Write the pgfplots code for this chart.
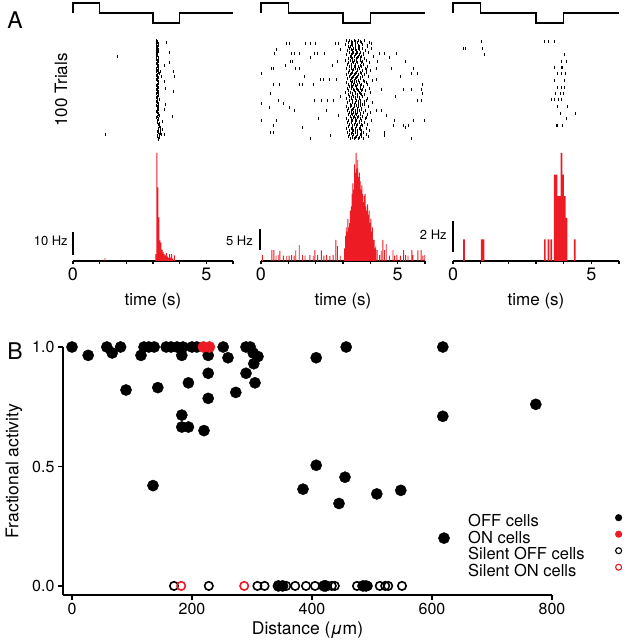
\documentclass[border=0pt]{standalone}
\usepackage{fontspec}
\setmainfont{TeX Gyre Heros}
\usepackage{pgfplots}
\pgfplotsset{compat=1.18}
\definecolor{myred}{RGB}{237,28,36}
\pgfplotsset{
  stim/.style={scale only axis, hide axis, xmin=0, xmax=6, ymin=0, ymax=2, height=20pt, clip=false},
  rast/.style={scale only axis, hide axis, xmin=0, xmax=6, ymin=0.5, ymax=100.5, y dir=reverse, height=100pt, clip=false},
  hist/.style={scale only axis, xmin=0, xmax=6, ymin=0, height=108pt, clip=false,
     axis x line=bottom, axis y line=none, axis line style={-, line width=1.3pt},
     xtick={0,1,2,3,4,5,6}, xticklabels={0,,,,,5,}, tick align=outside, major tick length=3pt,
     tick style={line width=1.1pt, black},
     xticklabel style={font=\fontsize{18}{20}\selectfont},
     /pgf/number format/assume math mode=true,
     xlabel={time (s)}, xlabel style={font=\fontsize{17}{19}\selectfont, at={(axis description cs:0.5,-0.37)}, anchor=center}},
  spk/.style={only marks, mark=|, mark size=1.6pt, mark options={line width=0.8pt}, black},
  hbar/.style={ybar, fill=myred, draw=none},
  legmark/.style={legend image code/.code={\path[draw=none, fill=none] (0pt,0pt) -- (36pt,0pt); \draw[##1, mark size=3pt, mark options={line width=1.1pt}] plot coordinates {(34pt,5.5pt)};}},
}
\begin{document}
\begin{tikzpicture}
\useasboundingbox (0,0) rectangle (627pt,640pt);
\node[font=\fontsize{23}{25}\selectfont] at (15pt,620pt) {A};
\node[font=\fontsize{23}{25}\selectfont] at (15pt,289pt) {B};
\node[rotate=90, font=\fontsize{17}{19}\selectfont] at (61pt,550pt) {100 Trials};

% ---------- column 1 ----------
\begin{axis}[stim, at={(73pt,617pt)}, anchor=south west, width=160pt]
\addplot[line width=1.5pt, black] coordinates {(0,1)(0,2)(1,2)(1,1)(3,1)(3,0)(4,0)(4,1)(6,1)};
\end{axis}
\begin{axis}[rast, at={(73pt,500pt)}, anchor=south west, width=160pt]
\addplot[spk] coordinates {
(3.14,1)(3.17,2)(3.15,3)(3.20,4)(3.13,5)(3.16,7)(3.14,9)(3.21,10)(3.18,11)(3.15,13)(3.17,15)(3.14,17)(3.22,18)(3.19,19)
(3.16,21)(3.15,23)(3.18,25)(3.21,26)(3.16,27)(3.14,29)(3.17,31)(3.19,33)(3.23,34)(3.16,35)(3.18,37)(3.15,39)(3.17,41)
(3.19,43)(3.22,44)(3.16,45)(3.18,47)(3.15,49)(3.17,51)(3.21,52)(3.16,53)(3.19,55)(3.17,57)(3.15,59)(3.24,60)(3.18,61)
(3.16,63)(3.19,65)(3.17,67)(3.15,69)(3.22,70)(3.18,71)(3.16,73)(3.19,75)(3.23,76)(3.17,77)(3.20,79)(3.18,81)(3.16,83)
(3.25,84)(3.21,85)(3.24,87)(3.28,88)(3.19,89)(3.22,90)(3.26,91)(3.20,93)(3.23,95)(3.18,97)(3.21,99)(3.19,100)
(3.12,2)(3.18,3)(3.11,6)(3.19,6)(3.12,8)(3.17,8)(3.13,12)(3.19,12)(3.12,14)(3.18,16)(3.13,20)(3.19,22)(3.12,24)
(3.20,28)(3.13,30)(3.21,30)(3.14,32)(3.13,36)(3.20,38)(3.14,40)(3.21,42)(3.13,46)(3.20,48)(3.14,50)(3.13,54)
(3.21,56)(3.14,58)(3.13,62)(3.21,64)(3.14,66)(3.20,68)(3.13,72)(3.21,74)(3.14,78)(3.22,80)(3.15,82)(3.23,86)
(3.17,92)(3.26,94)(3.16,96)(3.24,98)(3.22,100)
(3.52,3)(3.63,13)(1.65,17)(3.60,23)(3.41,26)(3.75,32)(3.82,37)(3.26,32)(3.30,37)(3.41,42)(3.48,49)(3.75,52)(3.48,65)
(3.44,70)(3.73,77)(3.37,82)(3.37,90)(3.30,95)(3.44,95)(1.20,95)(3.29,93)};
\end{axis}
\begin{axis}[hist, at={(73pt,379pt)}, anchor=south west, width=160pt, ymax=47]
\addplot[hbar, bar width=0.036] coordinates {
(1.20,1.3)(3.11,3)(3.146,47)(3.18,32)(3.22,19)(3.26,9)(3.30,8)(3.34,5)(3.38,4)(3.42,3)(3.46,2.5)(3.50,3.5)
(3.54,2)(3.58,1.5)(3.62,3)(3.66,1.5)(3.70,3)(3.74,1)(3.80,2.5)};
\draw[line width=1.3pt] (axis cs:0,2.6) -- (axis cs:0,12.6);
\node[anchor=east, inner sep=0pt, font=\fontsize{13}{15}\selectfont] at (axis cs:-0.19,8.7) {10 Hz};
\end{axis}

% ---------- column 2 ----------
\begin{axis}[stim, at={(261pt,617pt)}, anchor=south west, width=164pt]
\addplot[line width=1.5pt, black] coordinates {(0,1)(0,2)(1,2)(1,1)(3,1)(3,0)(4,0)(4,1)(6,1)};
\end{axis}
\begin{axis}[rast, at={(261pt,500pt)}, anchor=south west, width=164pt]
\addplot[spk] coordinates {
(3.13,1)(3.25,1)(3.42,1)(3.58,1)(3.80,1)
(3.20,3)(3.36,3)(3.51,3)(3.67,3)(3.95,3)
(3.10,5)(3.31,5)(3.46,5)(3.72,5)
(3.18,7)(3.28,7)(3.44,7)(3.61,7)(3.88,7)
(3.24,9)(3.39,9)(3.55,9)(3.70,9)(4.05,9)
(3.15,11)(3.33,11)(3.48,11)(3.83,11)
(3.22,13)(3.37,13)(3.53,13)(3.64,13)(3.92,13)
(3.12,15)(3.29,15)(3.45,15)(3.59,15)(3.76,15)
(3.26,17)(3.41,17)(3.57,17)(3.69,17)(4.10,17)
(3.19,19)(3.35,19)(3.50,19)(3.78,19)
(3.09,21)(3.27,21)(3.43,21)(3.62,21)(3.85,21)
(3.21,23)(3.38,23)(3.52,23)(3.66,23)(3.98,23)
(3.16,25)(3.32,25)(3.47,25)(3.74,25)
(3.23,27)(3.40,27)(3.56,27)(3.68,27)(3.90,27)
(3.14,29)(3.30,29)(3.44,29)(3.60,29)(3.81,29)
(3.25,31)(3.36,31)(3.54,31)(3.71,31)(4.02,31)
(3.18,33)(3.34,33)(3.49,33)(3.63,33)(3.87,33)
(3.11,35)(3.28,35)(3.42,35)(3.58,35)(3.77,35)
(3.22,37)(3.39,37)(3.53,37)(3.70,37)(3.94,37)
(3.17,39)(3.31,39)(3.46,39)(3.65,39)
(3.26,41)(3.43,41)(3.57,41)(3.73,41)(4.08,41)
(3.13,43)(3.29,43)(3.41,43)(3.61,43)(3.84,43)
(3.20,45)(3.37,45)(3.52,45)(3.67,45)(3.89,45)
(3.24,47)(3.35,47)(3.50,47)(3.75,47)
(3.15,49)(3.32,49)(3.48,49)(3.62,49)(3.96,49)
(3.21,51)(3.40,51)(3.55,51)(3.69,51)(3.82,51)
(3.10,53)(3.27,53)(3.44,53)(3.59,53)(4.00,53)
(3.19,55)(3.36,55)(3.51,55)(3.66,55)(3.79,55)
(3.25,57)(3.38,57)(3.54,57)(3.72,57)
(3.14,59)(3.30,59)(3.47,59)(3.60,59)(3.91,59)
(3.22,61)(3.34,61)(3.49,61)(3.64,61)(3.86,61)
(3.17,63)(3.33,63)(3.45,63)(3.63,63)(4.06,63)
(3.26,65)(3.42,65)(3.56,65)(3.70,65)(3.80,65)
(3.12,67)(3.28,67)(3.43,67)(3.58,67)(3.93,67)
(3.20,69)(3.37,69)(3.53,69)(3.68,69)
(3.16,71)(3.31,71)(3.46,71)(3.61,71)(3.83,71)
(3.23,73)(3.39,73)(3.52,73)(3.74,73)(3.99,73)
(3.18,75)(3.35,75)(3.50,75)(3.65,75)(3.88,75)
(3.27,77)(3.41,77)(3.55,77)(3.71,77)
(3.13,79)(3.30,79)(3.45,79)(3.62,79)(3.81,79)
(3.21,81)(3.36,81)(3.48,81)(3.66,81)(4.03,81)
(3.15,83)(3.32,83)(3.47,83)(3.59,83)(3.78,83)
(3.24,85)(3.40,85)(3.54,85)(3.69,85)(3.90,85)
(3.19,87)(3.34,87)(3.49,87)(3.64,87)
(3.11,89)(3.29,89)(3.44,89)(3.60,89)(3.85,89)
(3.22,91)(3.38,91)(3.51,91)(3.67,91)(3.97,91)
(3.17,93)(3.33,93)(3.46,93)(3.73,93)
(3.25,95)(3.37,95)(3.53,95)(3.63,95)(3.84,95)
(3.20,97)(3.35,97)(3.50,97)(3.68,97)(3.92,97)
(3.28,99)(3.42,99)(3.56,99)(3.76,99)
(3.30,2)(3.47,2)(3.65,2)(3.35,6)(3.55,6)(3.90,6)(3.29,10)(3.46,10)(3.61,10)(3.33,14)(3.49,14)(3.75,14)
(3.31,18)(3.52,18)(3.64,18)(3.35,22)(3.48,22)(3.71,22)(3.29,26)(3.44,26)(3.62,26)(3.37,30)(3.53,30)(3.86,30)
(3.31,34)(3.47,34)(3.66,34)(3.34,38)(3.50,38)(3.62,38)(3.36,42)(3.49,42)(3.80,42)(3.30,46)(3.45,46)(3.63,46)
(3.38,50)(3.52,50)(3.72,50)(3.33,54)(3.47,54)(3.65,54)(3.29,58)(3.44,58)(3.60,58)(3.36,62)(3.55,62)(3.78,62)
(3.32,66)(3.48,66)(3.64,66)(3.35,70)(3.51,70)(3.69,70)(3.30,74)(3.46,74)(3.62,74)(3.37,78)(3.53,78)(3.85,78)
(3.31,82)(3.45,82)(3.61,82)(3.34,86)(3.50,86)(3.70,86)(3.36,90)(3.47,90)(3.63,90)(3.30,94)(3.52,94)(3.66,94)
(3.33,98)(3.46,98)(3.60,98)
(0.94,4)(1.03,4)(1.61,4)(1.79,4)(2.00,4)(2.74,4)(2.82,4)(4.04,4)
(0.49,14)(1.12,14)(1.24,14)(1.40,14)(1.97,14)(2.07,14)(2.33,14)(4.34,14)(4.52,14)(4.97,14)
(1.06,22)(1.14,22)(2.79,22)(4.25,22)(5.29,22)
(0.39,29)(0.47,29)(1.27,29)(1.39,29)(4.22,29)(4.77,29)(5.56,29)
(0.02,34)(5.52,34)(5.74,34)
(2.19,40)(2.30,40)(2.52,40)(2.76,40)(4.22,40)
(0.45,45)(0.69,45)(1.42,45)(1.52,45)(1.91,45)(5.92,45)
(4.40,50)(5.22,50)(5.50,50)(5.86,50)
(0.33,54)(5.90,54)
(0.63,61)(1.97,61)(2.21,61)(2.42,61)(2.64,61)(5.74,61)(5.86,61)
(0.02,64)(0.82,64)
(1.21,71)(2.40,71)(4.22,71)(4.40,71)
(2.82,76)(4.58,76)
(0.02,81)(0.55,81)(4.89,81)(5.56,81)(5.99,81)
(0.45,86)(4.83,86)(5.22,86)(5.38,86)
(0.35,93)(0.45,93)(4.52,93)
(1.82,99)(5.52,99)
(0.55,10)(2.90,10)(1.80,18)(4.70,18)(0.90,26)(2.60,26)(1.60,37)(5.10,37)(2.90,57)(4.90,57)
(0.30,68)(1.05,68)(2.10,79)(1.50,88)(5.30,88)(2.55,96)(4.50,96)};
\end{axis}
\begin{axis}[hist, at={(261pt,379pt)}, anchor=south west, width=164pt, ymax=25.7]
\addplot[hbar, bar width=0.032] coordinates {
(0.05,1.4)(0.40,2.6)(0.47,2.6)(0.55,1.3)(0.63,1.4)(0.69,2.4)(0.82,1.3)(0.94,1.2)(1.03,1.3)(1.12,1.4)
(1.21,1.3)(1.27,2.5)(1.40,3.8)(1.52,1.4)(1.61,1.3)(1.79,1.4)(1.91,1.2)(1.97,2.6)(2.07,1.4)(2.21,2.5)
(2.30,1.3)(2.40,1.4)(2.52,1.2)(2.64,1.4)(2.74,5.0)(2.80,3.6)(2.90,1.3)
(3.06,3)(3.09,6)(3.12,8)(3.15,7)(3.18,10)(3.21,8)(3.24,9)(3.27,12)(3.30,13)(3.33,16)(3.36,18.5)(3.39,17)
(3.42,23)(3.45,21)(3.48,25.7)(3.51,22)(3.54,24)(3.57,20)(3.60,21)(3.63,19)(3.66,17)(3.69,18)(3.72,16)
(3.75,14)(3.78,15.5)(3.81,16)(3.84,13)(3.87,12)(3.90,13.5)(3.93,11)(3.96,12)(3.99,9)(4.02,10)(4.05,7)
(4.08,8)(4.11,5)(4.14,5)(4.17,3)(4.20,3.5)
(4.25,2.6)(4.34,1.4)(4.40,2.4)(4.46,5.0)(4.52,2.6)(4.58,4.0)(4.70,1.3)(4.83,2.6)(4.89,1.3)(4.97,1.4)
(5.10,1.3)(5.22,2.6)(5.29,1.4)(5.38,1.3)(5.52,2.6)(5.56,1.4)(5.74,2.5)(5.86,2.6)(5.92,1.3)(5.99,1.4)};
\draw[line width=1.3pt] (axis cs:-0.04,2.6) -- (axis cs:-0.04,7.6);
\node[anchor=east, inner sep=0pt, font=\fontsize{13}{15}\selectfont] at (axis cs:-0.29,4.76) {5 Hz};
\end{axis}

% ---------- column 3 ----------
\begin{axis}[stim, at={(453pt,617pt)}, anchor=south west, width=166pt]
\addplot[line width=1.5pt, black] coordinates {(0,1)(0,2)(1,2)(1,1)(3,1)(3,0)(4,0)(4,1)(6,1)};
\end{axis}
\begin{axis}[rast, at={(453pt,500pt)}, anchor=south west, width=166pt]
\addplot[spk] coordinates {
(1.04,2)(1.06,9)(1.12,15)(0.37,9)(0.44,9)(3.32,2)(3.44,2)(3.68,2)(4.04,15)(3.92,22)(4.10,22)
(3.68,28)(3.90,28)(3.95,28)(3.78,34)(3.93,34)(4.07,34)(3.66,41)(4.02,41)(3.76,48)(3.90,48)(4.01,48)
(3.71,54)(3.87,54)(3.99,54)(3.56,60)(3.65,60)(3.81,60)(3.93,60)(3.78,67)(4.13,67)(3.89,74)(4.43,74)
(4.10,79)(3.72,86)(3.78,86)(3.95,86)};
\end{axis}
\begin{axis}[hist, at={(453pt,379pt)}, anchor=south west, width=166pt, ymax=7]
\addplot[hbar, bar width=0.06] coordinates {
(0.40,1.4)(1.04,1.4)(1.10,1.4)(3.32,1.4)(3.45,1.4)(3.55,1.4)(3.68,5.6)(3.74,5.6)(3.80,4.2)(3.86,4.2)
(3.92,7)(3.98,5.6)(4.04,4.2)(4.10,2.8)(4.40,1.4)};
\draw[line width=1.3pt] (axis cs:0,0.58) -- (axis cs:0,2.6);
\node[anchor=east, inner sep=0pt, font=\fontsize{13}{15}\selectfont] at (axis cs:-0.22,1.69) {2 Hz};
\end{axis}

% ---------- panel B ----------
\begin{axis}[at={(63pt,45pt)}, anchor=south west, scale only axis, width=489pt, height=248pt,
  xmin=-15, xmax=800, ymin=-0.038, ymax=1.0, clip=false,
  axis x line*=bottom, axis y line*=left, axis line style={-, line width=1.5pt},
  xtick={0,200,400,600,800}, ytick={0,0.5,1}, tick align=outside, major tick length=5pt,
  tick style={line width=1.2pt, black},
  yticklabel style={/pgf/number format/.cd, fixed, fixed zerofill, precision=1},
  tick label style={font=\fontsize{16}{18}\selectfont},
  /pgf/number format/assume math mode=true,
  xlabel={Distance ({\itshape μ}m)}, ylabel={Fractional activity},
  xlabel style={font=\fontsize{17.5}{19}\selectfont, at={(axis description cs:0.5,0)}, anchor=center, yshift=-35pt},
  ylabel style={font=\fontsize{17.5}{19}\selectfont, at={(axis description cs:-0.1002,0.5)}, anchor=center},
  legend plot pos=right, legend cell align=left,
  legend style={at={(axis description cs:0.8282,0.3246)}, anchor=north west, draw=none, fill=none,
    inner sep=0pt, column sep=0pt, row sep=0pt, font=\fontsize{16.5}{16.5}\selectfont,
    nodes={inner sep=0pt, text height=11.5pt, text depth=4.5pt}},
]
\addplot[only marks, mark=*, mark size=5.6pt, black, mark options={line width=0.4pt}, legmark] coordinates {
(0,1.0)(27,0.965)(58,1.0)(67,0.975)(81,1.0)(90,0.82)(115,0.965)(120,1.0)(128,1.0)(137,1.0)(135,0.42)
(143,0.83)(157,1.0)(165,1.0)(175,1.0)(183,0.965)(185,1.0)(183,0.715)(183,0.665)(194,0.665)(194,0.85)
(200,1.0)(208,1.0)(220,0.65)(227,0.965)(227,0.89)(227,0.785)(252,1.0)(260,0.955)(273,0.81)(290,0.89)
(290,1.0)(297,1.0)(302,0.975)(303,0.93)(305,0.85)(310,0.96)(344,0)(351,0)(385,0.405)(407,0.955)
(407,0.505)(420,0)(423,0)(445,0.345)(455,0.455)(457,1.0)(485,0)(490,0)(508,0.385)(548,0.40)
(618,1.0)(618,0.71)(620,0.20)(773,0.76)};
\addlegendentry{OFF cells}
\addplot[only marks, mark=*, mark size=5.6pt, myred, mark options={line width=0.4pt}, legmark] coordinates {
(219,1.0)(229,1.0)};
\addlegendentry{ON cells}
\addplot[only marks, mark=o, mark size=4.2pt, black, mark options={line width=1.6pt}, legmark] coordinates {
(170,0)(228,0)(309,0)(321,0)(357,0)(372,0)(390,0)(405,0)(433,0)(438,0)(475,0)(493,0)(513,0)(522,0)(527,0)(550,0)};
\addlegendentry{Silent OFF cells}
\addplot[only marks, mark=o, mark size=4.2pt, myred, mark options={line width=1.6pt}, legmark] coordinates {
(182,0)(287,0)};
\addlegendentry{Silent ON cells}
\end{axis}
\end{tikzpicture}
\end{document}
